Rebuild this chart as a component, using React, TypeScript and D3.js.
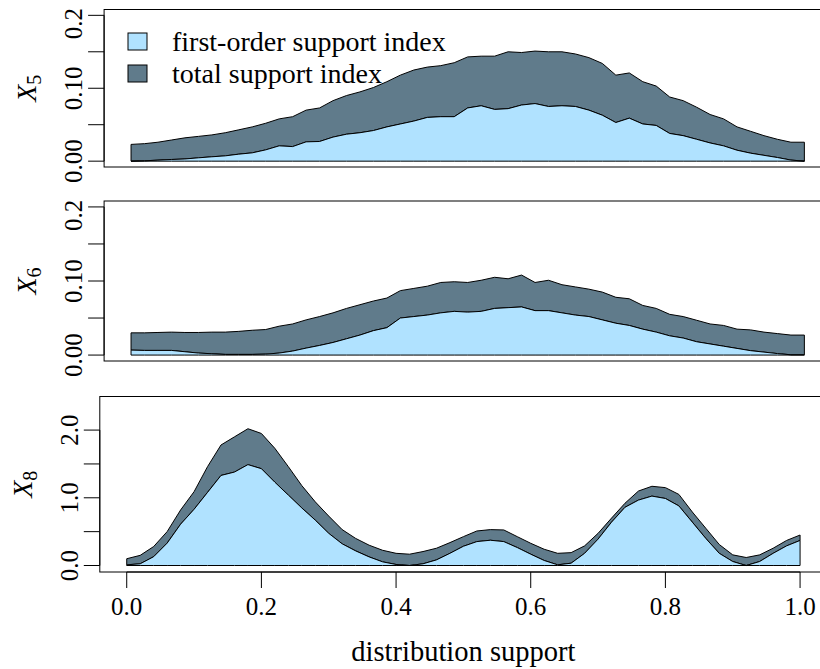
import * as d3 from "d3";

// distribution support grid
const support = [
  0, 0.02, 0.04, 0.06, 0.08, 0.1, 0.12, 0.14, 0.16, 0.18, 0.2, 0.22, 0.24,
  0.26, 0.28, 0.3, 0.32, 0.34, 0.36, 0.38, 0.4, 0.42, 0.44, 0.46, 0.48, 0.5,
  0.52, 0.54, 0.56, 0.58, 0.6, 0.62, 0.64, 0.66, 0.68, 0.7, 0.72, 0.74, 0.76,
  0.78, 0.8, 0.82, 0.84, 0.86, 0.88, 0.9, 0.92, 0.94, 0.96, 0.98, 1,
];

// X5
const x5First = [
  0.0, 0.0005, 0.0014, 0.0023, 0.003, 0.0046, 0.006, 0.0073, 0.0096, 0.0114,
  0.0155, 0.021, 0.02, 0.0265, 0.027, 0.033, 0.037, 0.039, 0.042, 0.047,
  0.051, 0.055, 0.06, 0.061, 0.061, 0.073, 0.076, 0.071, 0.072, 0.077, 0.079,
  0.075, 0.076, 0.075, 0.07, 0.063, 0.053, 0.059, 0.051, 0.049, 0.038, 0.035,
  0.03, 0.025, 0.021, 0.015, 0.011, 0.008, 0.005, 0.0015, 0.0,
];
const x5Total = [
  0.023, 0.024, 0.026, 0.029, 0.032, 0.034, 0.036, 0.039, 0.043, 0.047,
  0.052, 0.058, 0.061, 0.07, 0.073, 0.083, 0.09, 0.095, 0.101, 0.109, 0.118,
  0.125, 0.129, 0.131, 0.135, 0.143, 0.144, 0.144, 0.15, 0.149, 0.151, 0.15,
  0.15, 0.147, 0.142, 0.134, 0.118, 0.121, 0.109, 0.103, 0.088, 0.083, 0.074,
  0.064, 0.058, 0.047, 0.041, 0.035, 0.03, 0.026, 0.026,
];

// X6
const x6First = [
  0.0067, 0.0063, 0.0063, 0.0063, 0.0045, 0.0027, 0.0018, 0.0009, 0.0009,
  0.0009, 0.0013, 0.0027, 0.0054, 0.0094, 0.013, 0.017, 0.022, 0.027, 0.033,
  0.037, 0.05, 0.052, 0.054, 0.057, 0.059, 0.058, 0.059, 0.063, 0.064, 0.065,
  0.06, 0.06, 0.057, 0.054, 0.052, 0.0475, 0.043, 0.04, 0.035, 0.031, 0.026,
  0.023, 0.018, 0.015, 0.012, 0.009, 0.006, 0.004, 0.002, 0.0004, 0.0004,
];
const x6Total = [
  0.03, 0.03, 0.0305, 0.031, 0.0305, 0.0305, 0.031, 0.031, 0.032, 0.0335,
  0.0345, 0.039, 0.042, 0.0475, 0.052, 0.057, 0.063, 0.068, 0.073, 0.077,
  0.087, 0.09, 0.093, 0.098, 0.099, 0.098, 0.101, 0.105, 0.103, 0.108, 0.098,
  0.101, 0.095, 0.092, 0.089, 0.085, 0.078, 0.076, 0.067, 0.063, 0.055, 0.052,
  0.047, 0.042, 0.04, 0.035, 0.034, 0.031, 0.029, 0.027, 0.027,
];

// X8
const x8First = [
  0.01, 0.025, 0.13, 0.33, 0.61, 0.83, 1.08, 1.33, 1.38, 1.49, 1.43, 1.23,
  1.04, 0.85, 0.67, 0.475, 0.32, 0.216, 0.127, 0.054, 0.015, 0.0, 0.025,
  0.083, 0.18, 0.284, 0.353, 0.373, 0.353, 0.265, 0.167, 0.074, 0.01, 0.034,
  0.18, 0.39, 0.64, 0.86, 0.966, 1.025, 0.99, 0.88, 0.64, 0.4, 0.18, 0.059,
  0.0, 0.059, 0.18, 0.29, 0.37,
];
const x8Total = [
  0.1, 0.15, 0.28, 0.5, 0.82, 1.09, 1.46, 1.78, 1.9, 2.02, 1.95, 1.73, 1.46,
  1.18, 0.94, 0.73, 0.53, 0.4, 0.3, 0.225, 0.18, 0.167, 0.206, 0.255, 0.338,
  0.426, 0.51, 0.53, 0.525, 0.426, 0.328, 0.24, 0.18, 0.19, 0.29, 0.475, 0.7,
  0.92, 1.1, 1.17, 1.15, 1.05, 0.79, 0.55, 0.31, 0.157, 0.118, 0.157, 0.255,
  0.37, 0.45,
];

const legendLabels = ["first-order support index", "total support index"];
const xTicks = [0, 0.2, 0.4, 0.6, 0.8, 1];
const xTickLabels = ["0.0", "0.2", "0.4", "0.6", "0.8", "1.0"];
const smallTicks = [0, 0.05, 0.1, 0.15, 0.2];
// top label is cut at the panel edge in the original, only "0.2" shows
const smallTickLabels = ["0.00", "", "0.10", "", "0.2"];
const bigTicks = [0, 0.5, 1, 1.5, 2];
const bigTickLabels = ["0.0", "", "1.0", "", "2.0"];

const LIGHT = "#B0E2FF";
const DARK = "#607B8B";
const FONT = '"Liberation Serif", "DejaVu Serif", serif';
const PLOT_W = 727.2; // box width (x range with 4% padding)

interface Panel {
  id: string;
  sub: string;
  first: number[];
  total: number[];
  ymax: number;
  ticks: number[];
  tickLabels: string[];
  left: number;
  top: number;
  bottom: number;
  legend?: boolean;
  xAxis?: boolean;
}

const panels: Panel[] = [
  { id: "p5", sub: "5", first: x5First, total: x5Total, ymax: 0.2, ticks: smallTicks, tickLabels: smallTickLabels, left: 104.1, top: 9.5, bottom: 167, legend: true },
  { id: "p6", sub: "6", first: x6First, total: x6Total, ymax: 0.2, ticks: smallTicks, tickLabels: smallTickLabels, left: 104.1, top: 201, bottom: 361 },
  { id: "p8", sub: "8", first: x8First, total: x8Total, ymax: 2.4, ticks: bigTicks, tickLabels: bigTickLabels, left: 99.8, top: 396.5, bottom: 572, xAxis: true },
];

const txt = (size: number, italic = false) => ({
  fontFamily: FONT,
  fontSize: size,
  fontStyle: italic ? "italic" : "normal",
});

function PanelView({ p }: { p: Panel }) {
  const x = d3.scaleLinear().domain([-0.04, 1.04]).range([p.left, p.left + PLOT_W]);
  const y = d3.scaleLinear().domain([-0.04 * p.ymax, 1.04 * p.ymax]).range([p.bottom, p.top]);

  const firstArea = d3
    .area<number>()
    .x((_, i) => x(support[i]))
    .y0(() => y(0))
    .y1((d) => y(d));
  const totalArea = d3
    .area<number>()
    .x((_, i) => x(support[i]))
    .y0((_, i) => y(p.first[i]))
    .y1((d) => y(d));

  const midY = (p.top + p.bottom) / 2;
  const lastTick = p.ticks[p.ticks.length - 1];
  const nTicks = p.ticks.length;

  return (
    <g>
      <path d={totalArea(p.total) ?? ""} fill={DARK} stroke="#000" strokeWidth={1} strokeLinejoin="round" />
      <path d={firstArea(p.first) ?? ""} fill={LIGHT} stroke="#000" strokeWidth={1} strokeLinejoin="round" />

      {/* box */}
      <rect x={p.left} y={p.top} width={PLOT_W} height={p.bottom - p.top} fill="none" stroke="#000" strokeWidth={1} />

      {/* y axis */}
      <line x1={p.left} x2={p.left} y1={y(0)} y2={y(lastTick)} stroke="#000" strokeWidth={1} />
      {p.ticks.map((t, i) => {
        const lab = p.tickLabels[i];
        // the last label of the small panels is anchored at its lower end
        const cut = p.ymax < 1 && i === nTicks - 1;
        return (
          <g key={t}>
            <line x1={p.left - 16} x2={p.left} y1={y(t)} y2={y(t)} stroke="#000" strokeWidth={1} />
            {lab && (
              <text
                transform={`translate(${p.left - 22},${cut ? y(t) + 24 : y(t)}) rotate(-90)`}
                textAnchor={cut ? "start" : "middle"}
                style={txt(25)}
                fill="#000"
              >
                {lab}
              </text>
            )}
          </g>
        );
      })}

      {/* y title */}
      <text transform={`translate(${p.left - 68},${midY}) rotate(-90)`} textAnchor="middle" fill="#000" style={txt(28)}>
        <tspan style={txt(28, true)}>X</tspan>
        <tspan style={txt(20)} dy={5}>{p.sub}</tspan>
      </text>

      {p.legend &&
        legendLabels.map((lab, i) => (
          <g key={lab}>
            <rect x={128} y={33 + i * 32} width={19} height={17} fill={i === 0 ? LIGHT : DARK} stroke="#000" strokeWidth={1} />
            <text x={172} y={50.5 + i * 32} style={txt(28)} fill="#000">
              {lab}
            </text>
          </g>
        ))}

      {p.xAxis && (
        <g>
          <line x1={x(0)} x2={x(1)} y1={p.bottom} y2={p.bottom} stroke="#000" strokeWidth={1} />
          {xTicks.map((t, i) => (
            <g key={t}>
              <line x1={x(t)} x2={x(t)} y1={p.bottom} y2={p.bottom + 16} stroke="#000" strokeWidth={1} />
              <text x={x(t)} y={615} textAnchor="middle" style={txt(25)} fill="#000">
                {xTickLabels[i]}
              </text>
            </g>
          ))}
          <text x={p.left + PLOT_W / 2} y={661} textAnchor="middle" style={txt(28.5)} fill="#000">
            distribution support
          </text>
        </g>
      )}
    </g>
  );
}

export default function App() {
  return (
    <svg
      width={820}
      height={669}
      viewBox="0 0 820 669"
      style={{ position: "absolute", left: 0, top: 0, background: "#fff" }}
    >
      <rect x={0} y={0} width={820} height={669} fill="#fff" />
      {panels.map((p) => (
        <PanelView key={p.id} p={p} />
      ))}
    </svg>
  );
}
